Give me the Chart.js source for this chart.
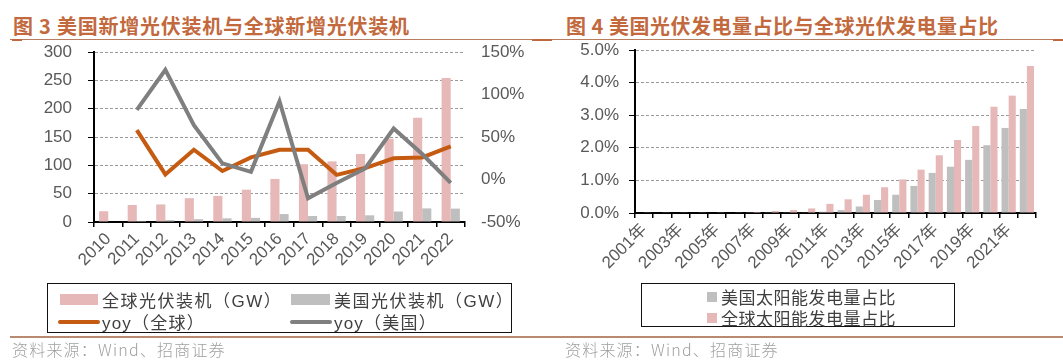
<!DOCTYPE html>
<html>
<head>
<meta charset="utf-8">
<script src="https://cdn.jsdelivr.net/npm/chart.js@4.4.1/dist/chart.umd.min.js"></script>
<style>
  body { margin: 0; background: #fff; width: 1063px; height: 361px; position: relative; overflow: hidden;
         font-family: "Liberation Sans", Arial, "Noto Sans CJK SC", sans-serif; }
  .title { position: absolute; top: 11px; font-family: "Noto Sans CJK SC", sans-serif; font-weight: bold;
           font-size: 20px; color: #c2693d; letter-spacing: 0.75px; white-space: nowrap; }
  .rule { position: absolute; height: 1px; background: #b87c5e; }
  .tab { position: absolute; height: 2px; background: #c0693f; }
  .source { position: absolute; top: 337px; font-size: 16px; color: #a0a0a0; white-space: nowrap; letter-spacing: 1.2px;
            font-family: "Noto Sans CJK SC", sans-serif; font-weight: 300; }
  .wrap { position: absolute; }
  .legend { position: absolute; border: 1.5px solid #111; box-sizing: border-box; font-size: 17px; color: #404040;
            font-family: "Liberation Sans", "Noto Sans CJK SC", sans-serif; }
  .item { position: absolute; display: flex; align-items: center; white-space: nowrap; }
  .sw { display: inline-block; margin-right: 4px; }
</style>
</head>
<body>
<div class="title" style="left:13px;">图 3 美国新增光伏装机与全球新增光伏装机</div>
<div class="title" style="left:566px; letter-spacing:0.5px;">图 4 美国光伏发电量占比与全球光伏发电量占比</div>
<div class="rule" style="left:10px; top:39px; width:1053px;"></div>
<div class="tab" style="left:12px; top:39px; width:10px;"></div>
<div class="tab" style="left:532px; top:39px; width:20px;"></div>
<div class="tab" style="left:1053px; top:39px; width:10px;"></div>

<div class="wrap" style="left:0; top:40px; width:530px; height:245px;"><canvas id="installChart"></canvas></div>
<div class="wrap" style="left:530px; top:40px; width:533px; height:243px;"><canvas id="shareChart"></canvas></div>

<div class="legend" style="left:47px; top:283px; width:465px; height:50px;">
  <div class="item" style="left:12px; top:3px; letter-spacing:1.5px;"><span class="sw" style="width:38px;height:11px;background:#e6b9b8;"></span>全球光伏装机（GW）</div>
  <div class="item" style="left:243px; top:3px; letter-spacing:1.5px;"><span class="sw" style="width:39px;height:11px;background:#bfbfbf;"></span>美国光伏装机（GW）</div>
  <div class="item" style="left:10px; top:25px; letter-spacing:1.2px;"><span class="sw" style="width:42px;height:4px;background:#c55a11;border-radius:2px;margin-right:2px;"></span>yoy（全球）</div>
  <div class="item" style="left:242px; top:25px; letter-spacing:1.2px;"><span class="sw" style="width:42px;height:4px;background:#7f7f7f;border-radius:2px;margin-right:2px;"></span>yoy（美国）</div>
</div>
<div class="legend" style="left:641px; top:283px; width:314px; height:44px;">
  <div class="item" style="left:65px; top:0px; letter-spacing:0.5px;"><span class="sw" style="width:10px;height:10px;background:#bfbfbf;"></span>美国太阳能发电量占比</div>
  <div class="item" style="left:65px; top:21px; letter-spacing:0.5px;"><span class="sw" style="width:10px;height:10px;background:#e6b9b8;"></span>全球太阳能发电量占比</div>
</div>

<div class="rule" style="left:10px; top:336px; width:1053px; height:2px; background:#b98a72;"></div>
<div class="source" style="left:12px;">资料来源：Wind、招商证券</div>
<div class="source" style="left:565px;">资料来源：Wind、招商证券</div>

<script>
// Figure 3: new PV installs (GW) and yoy
const installYears = ['2010', '2011', '2012', '2013', '2014', '2015', '2016', '2017', '2018', '2019', '2020', '2021', '2022'];
const globalInstalls = [19, 30, 31, 42, 46, 57, 76, 102, 107, 120, 147, 184, 254];
const usInstalls = [0.9, 1.9, 3.4, 5, 6.5, 7.3, 14, 10.6, 10.6, 11.8, 18.5, 24, 23.6];
const globalYoy = [null, 58, 6, 35, 10, 26, 35, 35, 5.5, 13.5, 25, 26, 39];
const usYoy = [null, 82, 129, 64, 19, 9, 92, -22, -4, 13, 60, 30, -4];
const installTicks = [0, 50, 100, 150, 200, 250, 300];
const yoyTicks = [-50, 0, 50, 100, 150];

// Figure 4: solar share of generation (%)
const shareYears = ['2001年', '2002年', '2003年', '2004年', '2005年', '2006年', '2007年', '2008年', '2009年', '2010年', '2011年',
                    '2012年', '2013年', '2014年', '2015年', '2016年', '2017年', '2018年', '2019年', '2020年', '2021年', '2022年'];
const usShare = [0, 0, 0, 0, 0, 0, 0.01, 0.01, 0.01, 0.02, 0.04, 0.09, 0.2, 0.4, 0.56, 0.83, 1.23, 1.42, 1.63, 2.08, 2.61, 3.19];
const globalShare = [0.01, 0.01, 0.01, 0.01, 0.01, 0.02, 0.03, 0.06, 0.09, 0.14, 0.28, 0.42, 0.56, 0.79, 1.03, 1.33, 1.77, 2.24, 2.67, 3.26, 3.6, 4.51];
const shareTicks = [0, 1, 2, 3, 4, 5];

const tickFont = { family: '"Liberation Sans", Arial, "Noto Sans CJK SC", sans-serif', size: 17 };
const tickColor = '#595959';

function fixedTicks(list) {
    return function(scale) {
        scale.ticks = list.map(v => ({ value: v }));
    };
}

// pin the axis thickness and drop the label padding so the plot area lands where the picture has it
function pinWidth(w) {
    return function(scale) {
        scale.width = w;
        scale.paddingTop = 0;
        scale.paddingBottom = 0;
    };
}

const installCtx = document.getElementById('installChart').getContext('2d');
const installChart = new Chart(installCtx, {
    type: 'bar',
    data: {
        labels: installYears,
        datasets: [
            { type: 'line', label: 'yoy（美国）', data: usYoy, yAxisID: 'y1', borderColor: '#7f7f7f',
              borderWidth: 4, pointRadius: 0, tension: 0, order: 0 },
            { type: 'line', label: 'yoy（全球）', data: globalYoy, yAxisID: 'y1', borderColor: '#c55a11',
              borderWidth: 4, pointRadius: 0, tension: 0, order: 1 },
            { label: '全球光伏装机（GW）', data: globalInstalls, backgroundColor: '#e6b9b8', order: 2,
              categoryPercentage: 0.64, barPercentage: 1 },
            { label: '美国光伏装机（GW）', data: usInstalls, backgroundColor: '#bfbfbf', order: 3,
              categoryPercentage: 0.64, barPercentage: 1 }
        ]
    },
    options: {
        responsive: true,
        maintainAspectRatio: false,
        animation: false,
        layout: { padding: { top: 12, left: 0, right: 0, bottom: 0 } },
        plugins: { legend: { display: false }, tooltip: { enabled: false } },
        scales: {
            x: {
                grid: { display: true, drawOnChartArea: false, offset: true, tickLength: 5, tickColor: '#000', lineWidth: 1.5 },
                border: { display: true, color: '#000', width: 2 },
                ticks: { font: tickFont, color: tickColor, maxRotation: 45, minRotation: 45, autoSkip: false, padding: 2 },
                afterFit: s => { s.height = 63; }
            },
            y: {
                min: 0, max: 300,
                afterBuildTicks: fixedTicks(installTicks),
                grid: { color: '#9a9a9a', lineWidth: 1, tickLength: 6, tickColor: '#000', tickBorderDash: [] },
                border: { display: true, color: '#000', width: 2, dash: [3, 2] },
                ticks: { font: tickFont, color: tickColor, padding: 16 },
                afterFit: pinWidth(94)
            },
            y1: {
                position: 'right',
                min: -50, max: 150,
                afterBuildTicks: fixedTicks(yoyTicks),
                grid: { display: false },
                border: { display: false },
                ticks: { font: tickFont, color: tickColor, padding: 8, callback: v => v + '%' },
                afterFit: pinWidth(65)
            }
        }
    }
});

const shareCtx = document.getElementById('shareChart').getContext('2d');
const shareChart = new Chart(shareCtx, {
    type: 'bar',
    data: {
        labels: shareYears,
        datasets: [
            { label: '美国太阳能发电量占比', data: usShare, backgroundColor: '#bfbfbf',
              categoryPercentage: 0.78, barPercentage: 1 },
            { label: '全球太阳能发电量占比', data: globalShare, backgroundColor: '#e6b9b8',
              categoryPercentage: 0.78, barPercentage: 1 }
        ]
    },
    options: {
        responsive: true,
        maintainAspectRatio: false,
        animation: false,
        layout: { padding: { top: 10, left: 0, right: 27, bottom: 0 } },
        plugins: { legend: { display: false }, tooltip: { enabled: false } },
        scales: {
            x: {
                grid: { display: true, drawOnChartArea: false, offset: true, tickLength: 5, tickColor: '#000', lineWidth: 1.5 },
                border: { display: true, color: '#000', width: 2 },
                ticks: {
                    font: tickFont, color: tickColor, maxRotation: 45, minRotation: 45, autoSkip: false, padding: 2,
                    callback: function(v, i) { return i % 2 === 0 ? this.getLabelForValue(v) : ''; }
                },
                afterFit: s => { s.height = 70; }
            },
            y: {
                min: 0, max: 5,
                afterBuildTicks: fixedTicks(shareTicks),
                grid: { color: '#9a9a9a', lineWidth: 1, tickLength: 6, tickColor: '#000', tickBorderDash: [] },
                border: { display: true, color: '#000', width: 2, dash: [3, 2] },
                ticks: { font: tickFont, color: tickColor, padding: 10, callback: v => v.toFixed(1) + '%' },
                afterFit: pinWidth(105)
            }
        }
    }
});
</script>
</body>
</html>
